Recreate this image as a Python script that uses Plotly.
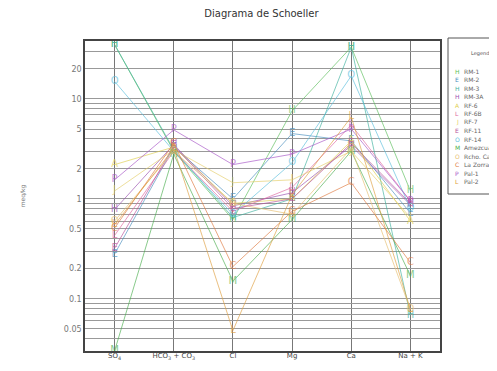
import plotly.graph_objects as go

categories = ["SO<sub>4</sub>", "HCO<sub>3</sub> + CO<sub>3</sub>", "Cl", "Mg", "Ca", "Na + K"]

names = ["RM-1", "RM-2", "RM-3", "RM-3A", "RF-6", "RF-6B", "RF-7", "RF-11", "RF-14",
         "Amezcua", "Rcho. Calv", "La Zorra", "Pal-1", "Pal-2"]
letters = ["H", "E", "H", "H", "A", "L", "J", "E", "O", "M", "O", "C", "P", "L"]
colors = ["#5cbf5c", "#4a90c0", "#3fb3a0", "#9a4fb0", "#e0d050", "#e066a0", "#e6cf6a",
          "#b8509a", "#5bc0de", "#4caf50", "#e8c070", "#e07a40", "#a855c8", "#e0a040"]

values = {
    "RM-1":       [35, 3.0, 0.62, 7.6, 33, 1.2],
    "RM-2":       [0.28, 3.3, 1.0, 4.5, 3.8, 0.72],
    "RM-3":       [35, 3.1, 0.65, 1.0, 33, 0.068],
    "RM-3A":      [0.78, 3.5, 0.85, 1.15, 3.4, 0.87],
    "RF-6":       [2.2, 3.3, 0.9, 1.0, 3.8, 0.6],
    "RF-6B":      [0.43, 3.0, 0.75, 1.3, 5.5, 0.95],
    "RF-7":       [1.2, 3.1, 1.45, 1.55, 3.0, 0.65],
    "RF-11":      [0.32, 3.4, 0.8, 1.0, 3.6, 0.9],
    "RF-14":      [15, 3.0, 0.7, 2.3, 17, 0.8],
    "Amezcua":    [0.03, 2.8, 0.15, 0.62, 3.0, 0.17],
    "Rcho. Calv": [0.6, 3.0, 0.9, 0.7, 3.2, 0.078],
    "La Zorra":   [0.51, 3.6, 0.21, 0.75, 1.45, 0.23],
    "Pal-1":      [1.55, 4.9, 2.2, 2.8, 5.0, 0.95],
    "Pal-2":      [0.55, 3.2, 0.048, 1.1, 6.6, 0.078],
}

tick_labels = {0.05: "0.05", 0.1: "0.1", 0.2: "0.2", 0.5: "0.5", 1: "1", 2: "2", 5: "5", 10: "10", 20: "20"}

fig = go.Figure()
xs = list(range(len(categories)))
for name, letter, color in zip(names, letters, colors):
    fig.add_trace(go.Scatter(
        x=xs, y=values[name], mode="lines+text",
        text=[letter] * len(xs), textposition="middle center",
        textfont=dict(family="DejaVu Sans", size=10, color=color),
        line=dict(color=color, width=1), opacity=0.65,
        showlegend=False, cliponaxis=False, name=name))

grid_vals = []
for k in [-2, -1, 0, 1]:
    for d in range(1, 10):
        v = round(d * 10 ** k, 6)
        if 0.03 <= v <= 38:
            grid_vals.append(v)
grid_text = [tick_labels.get(v, "") for v in grid_vals]

fig.update_layout(
    width=497, height=371,
    margin=dict(l=77, r=65, t=33, b=28),
    paper_bgcolor="white", plot_bgcolor="white",
    title=dict(text="Diagrama de Schoeller", x=0.51, xanchor="center", y=0.995, yanchor="top",
               font=dict(family="DejaVu Sans", size=10, color="#333")),
    xaxis=dict(range=[-0.5, 5.5], tickvals=xs, ticktext=categories,
               showgrid=True, gridcolor="#777", gridwidth=1, zeroline=False,
               showline=True, linecolor="#444", linewidth=1.5, mirror=True,
               ticks="", ticklabelstandoff=-3,
               tickfont=dict(family="DejaVu Sans", size=7, color="#444")),
    yaxis=dict(type="log", range=[-1.523, 1.58], tickvals=grid_vals, ticktext=grid_text,
               showgrid=True, gridcolor="#999", gridwidth=1, zeroline=False,
               showline=True, linecolor="#444", linewidth=1.5, mirror=True,
               ticks="", tickfont=dict(family="DejaVu Sans", size=8, color="#777"),
               title=dict(text="meq/kg", font=dict(family="DejaVu Sans", size=6, color="#777"), standoff=38)),
)

# manual legend with letter symbols
plot_top, plot_h, plot_left, plot_w = 33, 310, 77, 355
def px(x):
    return (x - plot_left) / plot_w
def py(y):
    return (plot_top + plot_h - y) / plot_h

fig.add_shape(type="rect", xref="paper", yref="paper", x0=px(440), x1=px(505), y0=py(186), y1=py(30),
              line=dict(color="#555", width=1), fillcolor="white")
fig.add_annotation(xref="paper", yref="paper", x=px(472), y=py(45), text="Legend", showarrow=False,
                   font=dict(family="DejaVu Sans", size=5, color="#555"), xanchor="center", yanchor="middle")
for i, (name, letter, color) in enumerate(zip(names, letters, colors)):
    yy = py(63 + i * 8.5)
    fig.add_annotation(xref="paper", yref="paper", x=px(449), y=yy, text=letter, showarrow=False,
                       font=dict(family="DejaVu Sans", size=6, color=color), xanchor="center", yanchor="middle")
    fig.add_annotation(xref="paper", yref="paper", x=px(454), y=yy, text=name, showarrow=False,
                       font=dict(family="DejaVu Sans", size=6, color="#666"), xanchor="left", yanchor="middle")

fig.write_html("out.html")
